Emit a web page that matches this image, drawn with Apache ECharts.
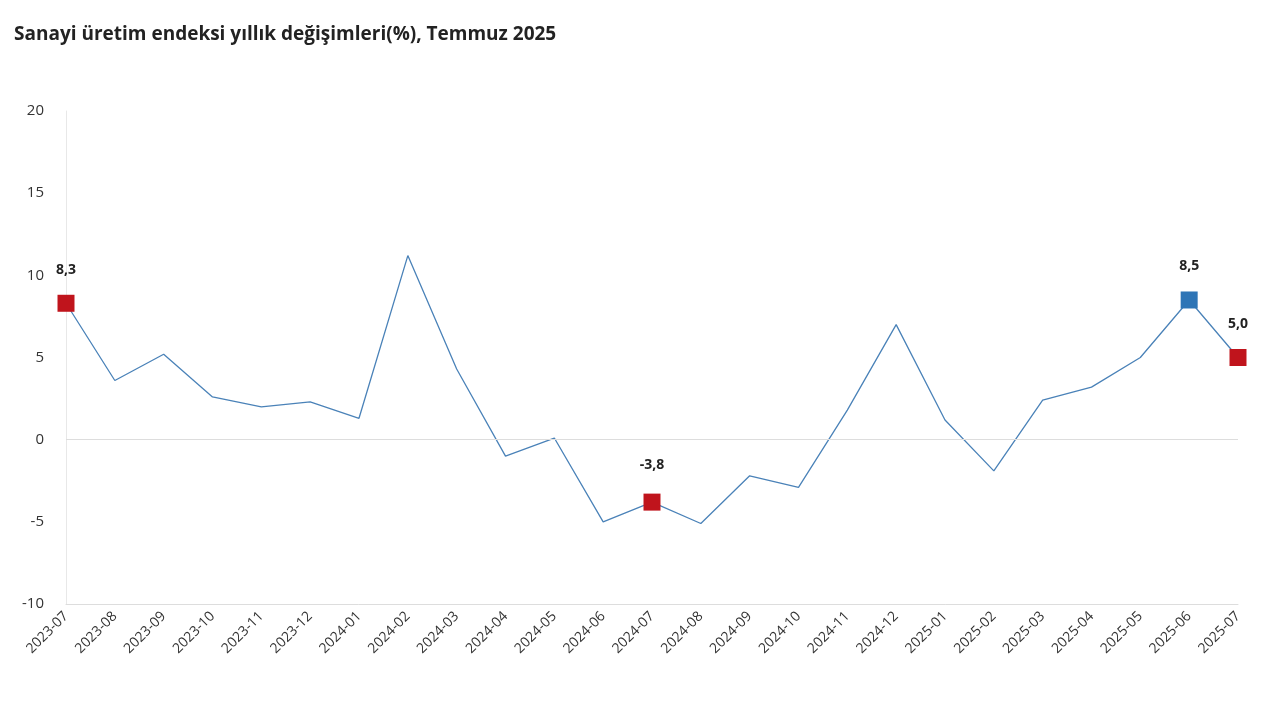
<!DOCTYPE html>
<html>
<head>
<meta charset="utf-8">
<script src="https://cdn.jsdelivr.net/npm/echarts@6/dist/echarts.min.js"></script>
<style>
  html, body { margin: 0; padding: 0; background: #fff; }
  #chart { width: 1280px; height: 720px; }
</style>
</head>
<body>
<div id="chart"></div>
<script>
const months = ['2023-07','2023-08','2023-09','2023-10','2023-11','2023-12','2024-01','2024-02','2024-03','2024-04','2024-05','2024-06','2024-07','2024-08','2024-09','2024-10','2024-11','2024-12','2025-01','2025-02','2025-03','2025-04','2025-05','2025-06','2025-07'];
const changes = [8.3, 3.6, 5.2, 2.6, 2.0, 2.3, 1.3, 11.2, 4.3, -1.0, 0.1, -5.0, -3.8, -5.1, -2.2, -2.9, 1.8, 7.0, 1.2, -1.9, 2.4, 3.2, 5.0, 8.5, 5.0];
// highlighted points: index -> colour
const highlights = { 0: '#C0141C', 12: '#C0141C', 23: '#2E75B6', 24: '#C0141C' };

const chart = echarts.init(document.getElementById('chart'));

const points = changes.map(function (v, i) {
  if (highlights[i] === undefined) return v;
  return {
    value: v,
    symbol: 'rect',
    symbolSize: 17,
    itemStyle: { color: highlights[i] },
    label: {
      show: true,
      position: 'top',
      distance: i === 12 ? 22 : 18,
      formatter: function (p) { return p.value.toFixed(1).replace('.', ','); },
      fontWeight: 'bold',
      fontSize: 14,
      color: '#222'
    }
  };
});

chart.setOption({
  animation: false,
  textStyle: { fontFamily: 'Open Sans' },
  title: {
    text: 'Sanayi üretim endeksi yıllık değişimleri(%), Temmuz 2025',
    left: 9,
    top: 20,
    textStyle: { fontSize: 19, fontWeight: 'bold', color: '#222' }
  },
  grid: { left: 66, right: 42, top: 111, bottom: 116 },
  xAxis: {
    type: 'category',
    data: months,
    boundaryGap: false,
    axisLine: { onZero: false, lineStyle: { color: '#ddd' } },
    axisTick: { show: false },
    axisLabel: { rotate: 45, color: '#333', fontSize: 14, margin: 10 }
  },
  yAxis: {
    type: 'value',
    min: -10,
    max: 20,
    interval: 5,
    axisLine: { show: true, lineStyle: { color: '#e8e8e8' } },
    splitLine: { show: false },
    axisLabel: { color: '#333', fontSize: 15, margin: 22 }
  },
  series: [{
    type: 'line',
    data: points,
    showSymbol: true,
    symbol: 'none',
    lineStyle: { color: '#4A82B8', width: 1.3 },
    itemStyle: { color: '#4A82B8' },
    markLine: {
      silent: true,
      symbol: 'none',
      label: { show: false },
      lineStyle: { color: '#ddd', type: 'solid', width: 1 },
      data: [{ yAxis: 0 }]
    }
  }]
});
</script>
</body>
</html>
